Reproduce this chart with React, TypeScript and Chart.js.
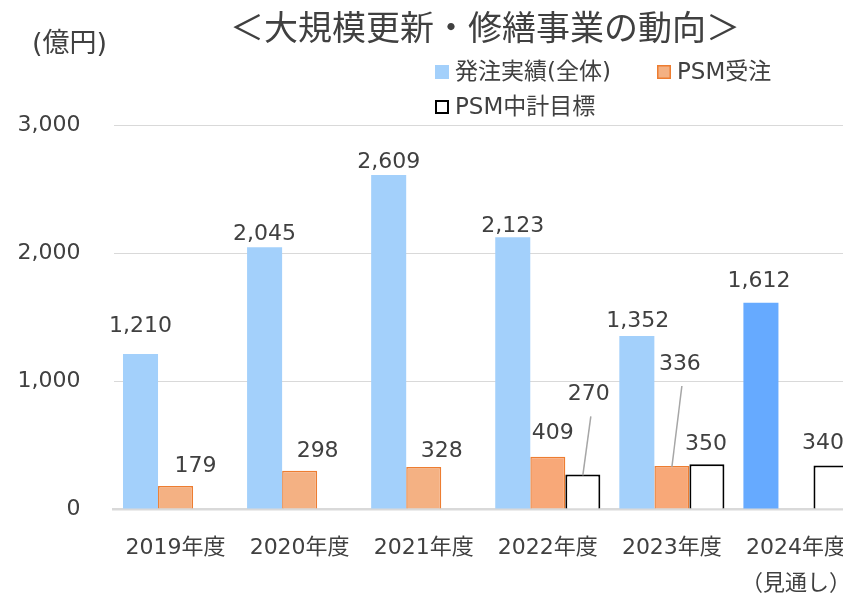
import React, { useEffect, useRef } from 'react';
import { Chart, registerables } from 'chart.js';

Chart.register(...registerables);

// ---- data ----
const yearLabels = ['2019年度', '2020年度', '2021年度', '2022年度', '2023年度', '2024年度'];
const forecastNote = '（見通し）';
const totalOrders: (number | null)[] = [1210, 2045, 2609, 2123, 1352, 1612];
const psmOrders: (number | null)[] = [179, 298, 328, 409, 336, null];
const psmTargets: (number | null)[] = [null, null, null, 270, 350, 340];
const yTickStep = 1000;
const yMax = 3000;

const seriesNames = ['発注実績(全体)', 'PSM受注', 'PSM中計目標'];
const chartTitle = '＜大規模更新・修繕事業の動向＞';
const unitLabel = '(億円)';

// ---- style ----
const FONT = '"DejaVu Sans", "Noto Sans CJK JP", sans-serif';
const CJK = '"Noto Sans CJK JP", sans-serif';
const TEXT = '#404040';
const blueFill = ['#A3D0FB', '#A3D0FB', '#A3D0FB', '#A3D0FB', '#A3D0FB', '#66AAFF'];
const orangeFill = ['#F4B183', '#F4B183', '#F4B183', '#F8A878', '#F8A878', '#F8A878'];
const orangeBorder = '#ED7D31';

// label offsets (style only): dx, dy of label centre relative to bar top centre
const labelDx = [
  [0, 0, 0, 0, 1, -2],
  [20, 18, 18, 5, 8, 0],
  [0, 0, 0, 6, -1, -8],
];
const labelDy = [
  [28, 13, 13, 11, 15, 21],
  [20, 20, 16, 23, 102, 0],
  [0, 0, 0, 80, 20, 22],
];
const leaderLine = [
  [false, false, false, false, false, false],
  [false, false, false, false, true, false],
  [false, false, false, true, false, false],
];

const fmt = (v: number) => v.toLocaleString('en-US');

const decorPlugin = {
  id: 'decor',
  afterDatasetsDraw(chart: any) {
    const ctx = chart.ctx;
    ctx.save();
    ctx.font = `22px ${FONT}`;
    ctx.fillStyle = TEXT;
    ctx.textAlign = 'center';
    ctx.textBaseline = 'middle';
    chart.data.datasets.forEach((ds: any, i: number) => {
      const meta = chart.getDatasetMeta(i);
      ds.data.forEach((v: number | null, j: number) => {
        if (v === null || v === undefined) return;
        const el = meta.data[j];
        const bx = el.x;
        const by = el.y;
        const lx = bx + labelDx[i][j];
        const ly = by - labelDy[i][j];
        if (leaderLine[i][j]) {
          ctx.save();
          ctx.strokeStyle = '#A6A6A6';
          ctx.lineWidth = 1.5;
          ctx.beginPath();
          ctx.moveTo(lx + 2, ly + 22);
          ctx.lineTo(bx, by + 1);
          ctx.stroke();
          ctx.restore();
        }
        ctx.fillText(fmt(v), lx, ly);
      });
    });
    ctx.restore();
  },
  afterDraw(chart: any) {
    const ctx = chart.ctx;
    ctx.save();
    ctx.fillStyle = TEXT;
    ctx.textBaseline = 'middle';
    // title
    ctx.textAlign = 'center';
    ctx.font = `34px ${CJK}`;
    ctx.fillText(chartTitle, 485, 27);
    // unit
    ctx.textAlign = 'left';
    ctx.font = `27px ${FONT}`;
    ctx.fillText(unitLabel, 32, 45);
    // legend
    const items = [
      { x: 435, y: 72, fill: blueFill[0], stroke: null as string | null, lw: 0 },
      { x: 657, y: 72, fill: orangeFill[0], stroke: orangeBorder, lw: 1.5 },
      { x: 435, y: 107, fill: '#FFFFFF', stroke: '#000000', lw: 2 },
    ];
    ctx.font = `23px ${FONT}`;
    items.forEach((it, k) => {
      ctx.fillStyle = it.fill;
      ctx.fillRect(it.x, it.y - 7, 14, 14);
      if (it.stroke) {
        ctx.strokeStyle = it.stroke;
        ctx.lineWidth = it.lw;
        ctx.strokeRect(it.x + it.lw / 2, it.y - 7 + it.lw / 2, 14 - it.lw, 14 - it.lw);
      }
      ctx.fillStyle = TEXT;
      ctx.fillText(seriesNames[k], it.x + 20, it.y + 1);
    });
    ctx.restore();
  },
};

export default function App() {
  const ref = useRef<HTMLCanvasElement | null>(null);
  useEffect(() => {
    if (!ref.current) return;
    const labels = yearLabels.map((y, i) => (i === yearLabels.length - 1 ? [y, forecastNote] : y));
    const chart = new Chart(ref.current, {
      type: 'bar',
      data: {
        labels,
        datasets: [
          {
            label: seriesNames[0],
            data: totalOrders,
            backgroundColor: blueFill,
            borderWidth: 0,
            categoryPercentage: 0.847,
            barPercentage: 1,
          },
          {
            label: seriesNames[1],
            data: psmOrders,
            backgroundColor: orangeFill,
            borderColor: orangeBorder,
            borderWidth: 1.5,
            categoryPercentage: 0.847,
            barPercentage: 1,
          },
          {
            label: seriesNames[2],
            data: psmTargets,
            backgroundColor: '#FFFFFF',
            borderColor: '#000000',
            borderWidth: 2,
            categoryPercentage: 0.847,
            barPercentage: 1,
          },
        ],
      } as any,
      options: {
        responsive: false,
        animation: false,
        layout: { padding: { top: 125, right: 2, left: 0, bottom: 0 } },
        plugins: {
          legend: { display: false },
          title: { display: false },
          tooltip: { enabled: false },
        },
        scales: {
          x: {
            grid: { display: false, drawTicks: false },
            border: { display: true, color: '#D9D9D9', width: 2.5 },
            ticks: {
              color: TEXT,
              font: { size: 22, family: FONT, lineHeight: 1.6 },
              padding: 22,
              maxRotation: 0,
              autoSkip: false,
            },
            afterFit: (s: any) => {
              s.height = 86;
              s.paddingLeft = 0;
              s.paddingRight = 0;
            },
          },
          y: {
            min: 0,
            max: yMax,
            ticks: {
              stepSize: yTickStep,
              padding: 33,
              color: TEXT,
              font: { size: 22, family: FONT },
              callback: (v: any) => fmt(Number(v)),
            },
            grid: {
              drawTicks: false,
              lineWidth: 1,
              color: (c: any) => (c.tick && c.tick.value === 0 ? 'rgba(0,0,0,0)' : '#D9D9D9'),
            },
            border: { display: false },
            afterFit: (s: any) => {
              s.width = 113.5;
            },
          },
        },
      } as any,
      plugins: [decorPlugin],
    });
    return () => chart.destroy();
  }, []);

  return (
    <div
      style={{
        position: 'fixed',
        left: 0,
        top: 0,
        width: 843,
        height: 595,
        overflow: 'hidden',
        background: '#FFFFFF',
      }}
    >
      <canvas ref={ref} width={860} height={595} style={{ display: 'block', width: 860, height: 595 }} />
    </div>
  );
}
